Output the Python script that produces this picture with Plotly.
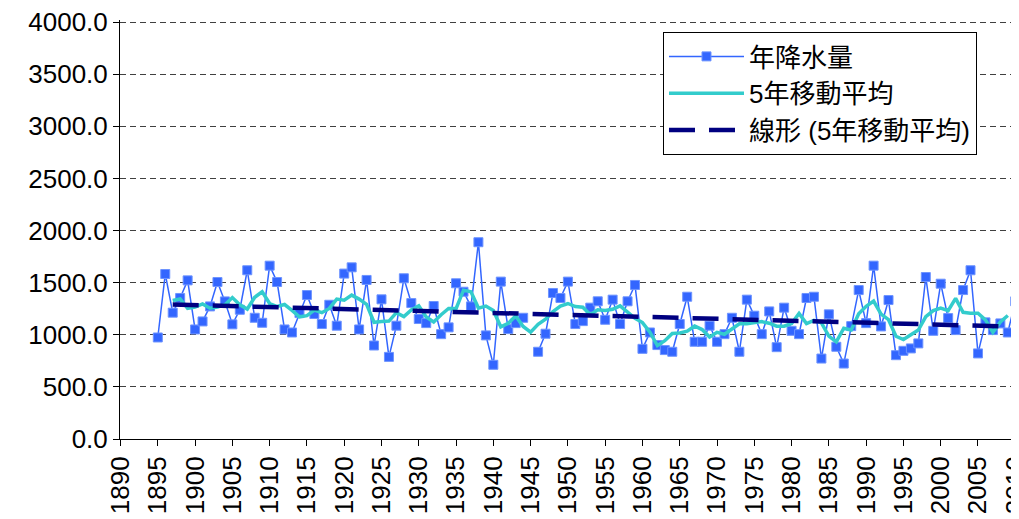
import plotly.graph_objects as go

# Annual precipitation (year 1945 missing in the source chart)
years = list(range(1895, 2012))
annual_rain = [
    974, 1583, 1212, 1353, 1522,
    1051, 1128, 1272, 1506, 1320,
    1100, 1240, 1619, 1163, 1115,
    1663, 1506, 1051, 1022, 1208,
    1381, 1199, 1103, 1288, 1087,
    1587, 1647, 1051, 1526, 897,
    1340, 788, 1087, 1542, 1304,
    1151, 1112, 1276, 1006, 1071,
    1494, 1413, 1272, 1888, 994,
    712, 1510, 1054, 1112, 1163,
    None, 837, 1010, 1401, 1353,
    1510, 1103, 1131, 1260, 1321,
    1144, 1337, 1103, 1321, 1478,
    865, 1022, 901, 853, 837,
    1103, 1365, 933, 933, 1087,
    933, 1006, 1163, 837, 1337,
    1183, 1006, 1224, 881, 1260,
    1038, 1006, 1353, 1365, 772,
    1196, 885, 724, 1083, 1429,
    1112, 1663, 1080, 1333, 804,
    846, 869, 917, 1554, 1038,
    1490, 1160, 1045, 1429, 1619,
    821, 1119, 1045, 1109, 1022,
    1321, 1429,
]

# 5-year moving average
ma_years = list(range(1897, 2010))
ma_values = [
    1329, 1344, 1253,
    1265, 1296, 1255, 1265, 1288,
    1357, 1288, 1247, 1360, 1413,
    1300, 1271, 1290, 1234, 1172,
    1183, 1236, 1212, 1253, 1342,
    1332, 1380, 1342, 1292, 1120,
    1128, 1131, 1212, 1174, 1239,
    1277, 1170, 1123, 1192, 1252,
    1251, 1428, 1412, 1256, 1275,
    1232, 1076, 1110, 1180, 1080,
    1025, 1100, 1150, 1222, 1275,
    1300, 1271, 1265, 1192, 1239,
    1233, 1245, 1277, 1221, 1158,
    1117, 1024, 896, 943, 1012,
    1018, 1034, 1084, 1050, 978,
    1024, 1005, 1055, 1105, 1105,
    1117, 1126, 1111, 1082, 1082,
    1108, 1204, 1107, 1138, 1114,
    988, 932, 1063, 1047, 1202,
    1273, 1323, 1198, 1145, 986,
    954, 998, 1045, 1174, 1232,
    1257, 1232, 1349, 1215, 1207,
    1207, 1143, 1023, 1123, 1185,
]

# linear trendline of the moving average (end points)
trend_years = [1897, 2009]
trend_values = [1290, 1080]

FONT = "Liberation Sans, Arial, Noto Sans CJK TC, sans-serif"

fig = go.Figure()

fig.add_trace(go.Scatter(
    x=years, y=annual_rain,
    name="年降水量",
    mode="lines+markers",
    connectgaps=False,
    line=dict(color="#3366FF", width=1.5),
    marker=dict(symbol="square", size=9, color="#3366FF",
                line=dict(color="#6E94FF", width=1)),
))

fig.add_trace(go.Scatter(
    x=ma_years, y=ma_values,
    name="5年移動平均",
    mode="lines",
    line=dict(color="#33CCCC", width=3.5),
))

fig.add_trace(go.Scatter(
    x=trend_years, y=trend_values,
    name="線形 (5年移動平均)",
    mode="lines",
    line=dict(color="#000080", width=4.5, dash="26px,14px"),
))

# the page body has an 8px margin, so the figure is offset by 8px
fig.update_layout(
    width=1019,
    height=519,
    margin=dict(l=112, r=8, t=12, b=88, autoexpand=False),
    paper_bgcolor="white",
    plot_bgcolor="white",
    font=dict(family=FONT, size=26, color="black"),
    showlegend=True,
    legend=dict(
        x=0.604, y=0.9714, xanchor="left", yanchor="top",
        bgcolor="white", bordercolor="black", borderwidth=1,
        font=dict(family=FONT, size=26, color="black"),
        itemwidth=75, tracegroupgap=0,
    ),
)

fig.update_xaxes(
    range=[1889.93, 2010.5],
    tickmode="linear", tick0=1890, dtick=5,
    tickangle=-90,
    tickfont=dict(size=26),
    ticklabeloverflow="allow",
    automargin=False,
    ticks="outside", ticklen=6, tickcolor="black",
    showline=True, linecolor="black", linewidth=1,
    showgrid=False, zeroline=False,
)

fig.update_yaxes(
    range=[0, 4020],
    tickmode="linear", tick0=0, dtick=500,
    tickformat=".1f",
    tickfont=dict(size=26),
    ticklabeloverflow="allow",
    automargin=False,
    ticks="outside", ticklen=6, tickcolor="black",
    showline=True, linecolor="black", linewidth=1,
    showgrid=True, gridcolor="#404040", gridwidth=1, griddash="6px,4px",
    zeroline=False,
)

fig.write_html("out.html")
